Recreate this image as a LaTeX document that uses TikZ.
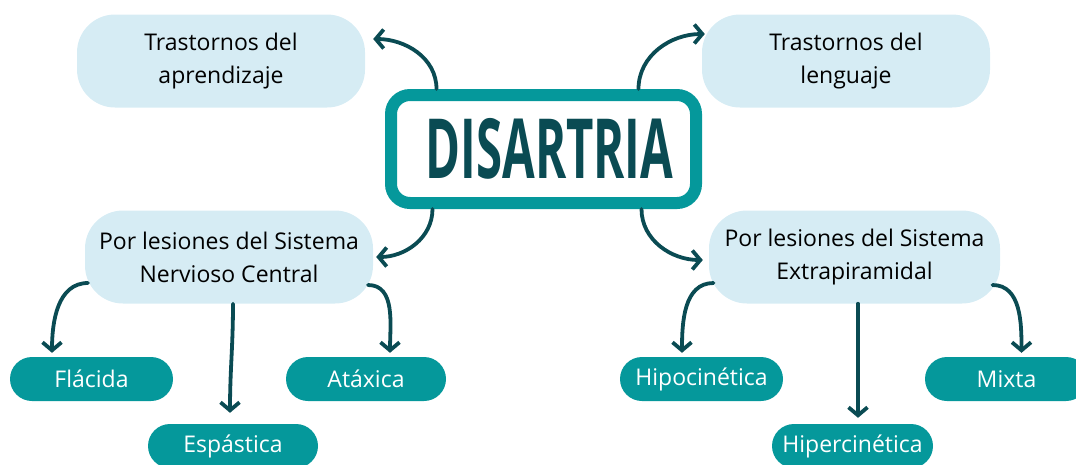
\documentclass[tikz,border=0pt]{standalone}
\usepackage{fontspec}
\setmainfont{Open Sans}
\usetikzlibrary{arrows.meta,positioning}
\definecolor{dteal}{HTML}{0A4B53}
\definecolor{teal}{HTML}{05989B}
\definecolor{lblue}{HTML}{D6ECF4}
\tikzset{
    title/.style =  {rectangle,
                    rounded corners=19pt,
                    fill=white,
                    draw=teal,
                    text=dteal,
                    line width=12pt,
                    minimum width=305pt,
                    minimum height=108pt},
    idea/.style =   {rectangle,
                    rounded corners=38pt,
                    fill=lblue,
                    text=black,
                    align=center,
                    minimum width=288pt,
                    minimum height=93pt,
                    font=\fontsize{23}{33}\selectfont},
    leaf/.style =   {rectangle,
                    rounded corners=22pt,
                    fill=teal,
                    text=white,
                    minimum width=163pt,
                    minimum height=44pt,
                    font=\fontsize{23}{27}\selectfont},
    link/.style =   {draw=dteal,
                    line width=3.8pt,
                    line cap=round},
    -,
    >={Straight Barb[length=8pt,width=19pt]}}

\begin{document}
\begin{tikzpicture}[x=1pt,y=-1pt]
                \useasboundingbox (0,0) rectangle (1076,464);
                \node[title]  (A) at (543.5,149) {\hspace*{12pt}\scalebox{0.57}[1]{\fontsize{83}{83}\selectfont\bfseries DISARTRIA}};
                \node[idea]   (B) at (221,61)  {Trastornos del\\aprendizaje};
                \node[idea]   (C) at (846,61)  {Trastornos del\\lenguaje};
                \node[idea]   (D) at (229,257) {Por lesiones del Sistema\\Nervioso Central};
                \node[idea,minimum width=291pt] (E) at (854.5,257) {Por lesiones del Sistema\\Extrapiramidal};
                \node[leaf]   (F) at (91.5,379)  {Flácida};
                \node[leaf,minimum width=170pt] (G) at (233,446) {Espástica};
                \node[leaf,minimum width=160pt] (H) at (366,379) {Atáxica};
                \node[leaf]   (I) at (701.5,379) {Hipocinética};
                \node[leaf,minimum width=161pt] (J) at (852.5,446) {Hipercinética};
                \node[leaf]   (K) at (1006.5,379) {Mixta};

                \path [link]    ([xshift=-107pt]A.north) edge [->,out=90,in=0]   ([xshift=8pt,yshift=22pt]B.east)
                                ([xshift=95pt]A.north)   edge [->,out=90,in=180] ([xshift=3pt,yshift=27pt]C.west)
                                ([xshift=-111pt]A.south) edge [->,out=-90,in=0]  ([xshift=3pt]D.east)
                                ([xshift=98pt]A.south)   edge [->,out=-90,in=180] ([xshift=-6pt,yshift=-3pt]E.west)
                                ([xshift=-141pt,yshift=-26pt]D.center) edge [->,out=180,in=90] ([xshift=-39.5pt,yshift=4pt]F.north)
                                ([xshift=4pt]D.south)                  edge [->,out=-90,in=90] ([xshift=-3pt,yshift=11pt]G.north)
                                ([xshift=139pt,yshift=-28pt]D.center)  edge [->,out=0,in=90]   ([xshift=24pt,yshift=4pt]H.north)
                                ([xshift=-141pt,yshift=-26pt]E.center) edge [->,out=180,in=90] ([xshift=-19.5pt,yshift=4pt]I.north)
                                ([xshift=3.5pt]E.south)                edge [->,out=-90,in=90] ([xshift=5.5pt,yshift=6pt]J.north)
                                ([xshift=138pt,yshift=-28pt]E.center)  edge [->,out=0,in=90]   ([xshift=15pt,yshift=4pt]K.north);
        \end{tikzpicture}
\end{document}
